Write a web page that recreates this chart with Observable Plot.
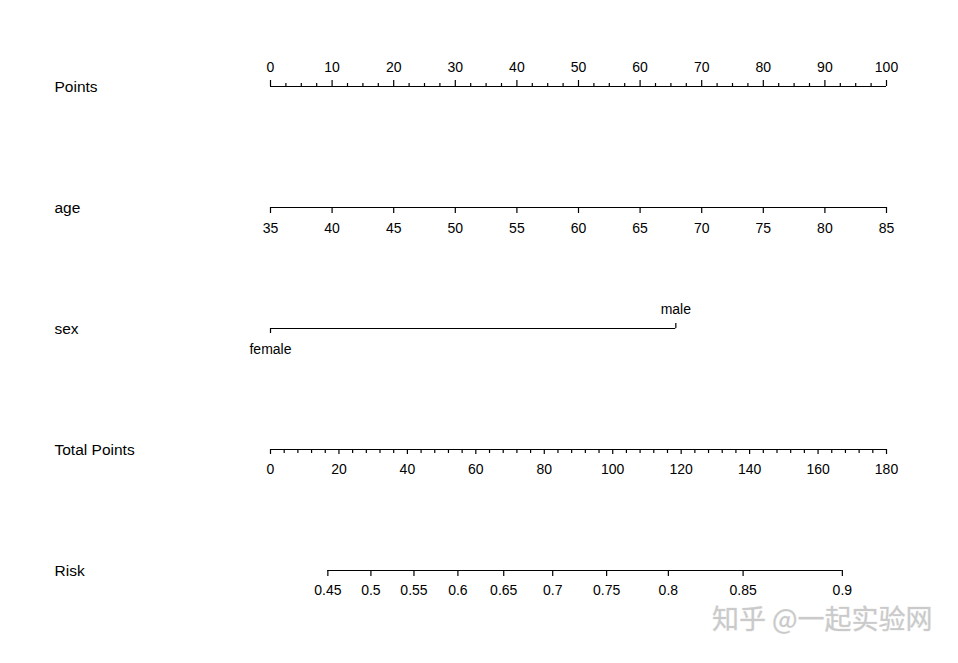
<!DOCTYPE html>
<html>
<head>
<meta charset="utf-8">
<script src="https://cdn.jsdelivr.net/npm/d3@7"></script>
<script src="https://cdn.jsdelivr.net/npm/@observablehq/plot@0.6"></script>
<style>
  body { margin: 0; background: #fff; }
</style>
</head>
<body>
<div id="chart"></div>
<script>
// ---- data ----
const rows = ["Points", "age", "sex", "Total Points", "Risk"];
const pointsTicks = [0, 10, 20, 30, 40, 50, 60, 70, 80, 90, 100];
const pointsMinorStep = 2.5;
const ageTicks = [35, 40, 45, 50, 55, 60, 65, 70, 75, 80, 85];
const ageRange = [35, 85];           // age 35 -> 0 pts, 85 -> 100 pts
const sexLevels = ["female", "male"];
const sexPoints = [0, 65.8];
const totalTicks = [0, 20, 40, 60, 80, 100, 120, 140, 160, 180];
const totalMinorStep = 4;
const totalMax = 180;
const riskTicks = [0.45, 0.5, 0.55, 0.6, 0.65, 0.7, 0.75, 0.8, 0.85, 0.9];
const riskIntercept = -0.468;        // linear predictor at 0 total points
const riskSlope = 0.01595;           // linear predictor per total point
const watermark = "知乎 @一起实验网";

// ---- conversions to the "Points" scale ----
const agePts = a => (a - ageRange[0]) / (ageRange[1] - ageRange[0]) * 100;
const totalPts = t => t / totalMax * 100;
const riskPts = p => totalPts((Math.log(p / (1 - p)) - riskIntercept) / riskSlope);

const pointsMajor = pointsTicks.map(v => ({row: "Points", x: v, label: String(v)}));
const pointsMinor = d3.range(0, 100 + 1e-9, pointsMinorStep)
  .filter(v => !pointsTicks.includes(v)).map(v => ({row: "Points", x: v}));
const ageData = ageTicks.map(v => ({row: "age", x: agePts(v), label: String(v)}));
const sexData = sexLevels.map((s, i) => ({row: "sex", x: sexPoints[i], label: s}));
const totalMajor = totalTicks.map(v => ({row: "Total Points", x: totalPts(v), label: String(v)}));
const totalMinor = d3.range(0, totalMax + 1e-9, totalMinorStep)
  .filter(v => !totalTicks.includes(v)).map(v => ({row: "Total Points", x: totalPts(v)}));
const riskData = riskTicks.map(v => ({row: "Risk", x: riskPts(v), label: String(v)}));

const segments = [
  {row: "Points", x1: 0, x2: 100},
  {row: "age", x1: agePts(ageTicks[0]), x2: agePts(ageTicks[ageTicks.length - 1])},
  {row: "sex", x1: d3.min(sexPoints), x2: d3.max(sexPoints)},
  {row: "Total Points", x1: totalPts(totalTicks[0]), x2: totalPts(totalTicks[totalTicks.length - 1])},
  {row: "Risk", x1: riskPts(riskTicks[0]), x2: riskPts(riskTicks[riskTicks.length - 1])}
];

const sw = 1.2;
const tickFont = 14;
// short vertical tick from the row's baseline, up (negative n) or down (positive n)
const tick = (data, n) => Plot.ruleX(data, {
  x: "x", y1: "row", y2: "row", stroke: "#000", strokeWidth: sw,
  insetTop: n < 0 ? n : 0, insetBottom: n > 0 ? -n : 0
});

const chart = Plot.plot({
  width: 958,
  height: 663,
  marginLeft: 270,
  marginRight: 72,
  marginTop: 86,
  marginBottom: 93,
  style: {fontFamily: "'Liberation Sans', Arial, sans-serif", fontSize: "14px", background: "#fff", color: "#000"},
  x: {domain: [0, 100], axis: null},
  y: {type: "point", domain: rows, padding: 0, axis: null},
  marks: [
    Plot.ruleY(segments, {y: "row", x1: "x1", x2: "x2", stroke: "#000", strokeWidth: sw}),
    // Points
    tick(pointsMajor, -6),
    tick(pointsMinor, -3),
    Plot.text(pointsMajor, {x: "x", y: "row", text: "label", dy: -19, fontSize: tickFont}),
    // age
    tick(ageData, 6),
    Plot.text(ageData, {x: "x", y: "row", text: "label", dy: 21, fontSize: tickFont}),
    // sex
    tick(sexData.filter((d, i) => i % 2 === 0), 5),
    tick(sexData.filter((d, i) => i % 2 === 1), -5),
    Plot.text(sexData.filter((d, i) => i % 2 === 0), {x: "x", y: "row", text: "label", dy: 21, fontSize: tickFont}),
    Plot.text(sexData.filter((d, i) => i % 2 === 1), {x: "x", y: "row", text: "label", dy: -19, fontSize: tickFont}),
    // Total Points
    tick(totalMajor, 5),
    tick(totalMinor, 4),
    Plot.text(totalMajor, {x: "x", y: "row", text: "label", dy: 20, fontSize: tickFont}),
    // Risk
    tick(riskData, 6),
    Plot.text(riskData, {x: "x", y: "row", text: "label", dy: 20, fontSize: tickFont}),
    // row labels
    Plot.text(rows, {y: d => d, text: d => d, frameAnchor: "left", textAnchor: "start", dx: -216, dy: 1, fontSize: 15.5}),
    // watermark
    Plot.text([watermark], {text: d => d, frameAnchor: "bottom-right", textAnchor: "end", dx: 46, dy: 58,
      fontSize: 27, fontFamily: "'Noto Sans CJK SC', sans-serif", fill: "#cacaca",
      stroke: "#e6e6e6", strokeWidth: 0.6})
  ]
});
document.getElementById("chart").appendChild(chart);
</script>
</body>
</html>
